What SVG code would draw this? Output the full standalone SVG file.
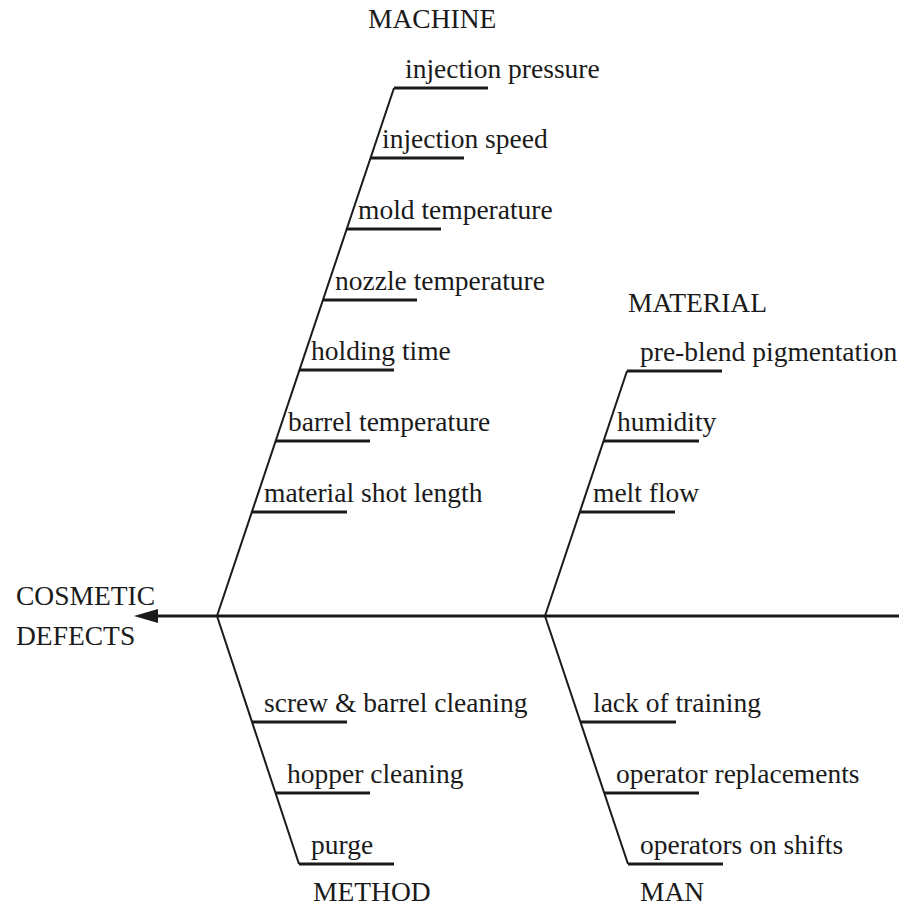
<svg xmlns="http://www.w3.org/2000/svg" width="899" height="915" viewBox="0 0 899 915">
<style>
text{font-family:"Liberation Serif","Times New Roman",Times,serif;font-size:27.5px;fill:#1a1a1a}
.bone{stroke:#1a1a1a;stroke-width:2;fill:none}
.sub{stroke:#1a1a1a;stroke-width:3;fill:none}
.spine{stroke:#1a1a1a;stroke-width:3;fill:none}
</style>
<g id="connectors">
<line class="spine" x1="899" y1="616" x2="150" y2="616"/>
<path d="M134,616 L158,609 L158,623 Z" fill="#1a1a1a"/>
<line class="bone" x1="217" y1="616" x2="394" y2="88"/>
<line class="bone" x1="545" y1="616" x2="627" y2="371"/>
<line class="bone" x1="217" y1="616" x2="299" y2="864"/>
<line class="bone" x1="545" y1="616" x2="628" y2="864"/>
</g>
<g id="head"><text x="16" y="605">COSMETIC</text><text x="16" y="645">DEFECTS</text></g>
<g id="machine">
<text x="368" y="28">MACHINE</text>
<g id="m1"><line class="sub" x1="394" y1="88" x2="488" y2="88"/><text x="405" y="78">injection pressure</text></g>
<g id="m2"><line class="sub" x1="370" y1="158" x2="464" y2="158"/><text x="382" y="148">injection speed</text></g>
<g id="m3"><line class="sub" x1="347" y1="229" x2="441" y2="229"/><text x="358" y="219">mold temperature</text></g>
<g id="m4"><line class="sub" x1="323" y1="300" x2="417" y2="300"/><text x="335" y="290">nozzle temperature</text></g>
<g id="m5"><line class="sub" x1="299" y1="370" x2="394" y2="370"/><text x="311" y="360">holding time</text></g>
<g id="m6"><line class="sub" x1="276" y1="441" x2="370" y2="441"/><text x="288" y="431">barrel temperature</text></g>
<g id="m7"><line class="sub" x1="252" y1="512" x2="347" y2="512"/><text x="264" y="502">material shot length</text></g>
</g>
<g id="material">
<text x="628" y="312">MATERIAL</text>
<g id="t1"><line class="sub" x1="627" y1="371" x2="722" y2="371"/><text x="640" y="361">pre-blend pigmentation</text></g>
<g id="t2"><line class="sub" x1="604" y1="441" x2="699" y2="441"/><text x="617" y="431">humidity</text></g>
<g id="t3"><line class="sub" x1="580" y1="512" x2="675" y2="512"/><text x="593" y="502">melt flow</text></g>
</g>
<g id="method">
<g id="d1"><line class="sub" x1="252" y1="722" x2="347" y2="722"/><text x="264" y="712">screw &amp; barrel cleaning</text></g>
<g id="d2"><line class="sub" x1="276" y1="793" x2="370" y2="793"/><text x="287" y="783">hopper cleaning</text></g>
<g id="d3"><line class="sub" x1="299" y1="864" x2="394" y2="864"/><text x="311" y="854">purge</text></g>
<text x="313" y="901">METHOD</text>
</g>
<g id="man">
<g id="n1"><line class="sub" x1="581" y1="722" x2="676" y2="722"/><text x="593" y="712">lack of training</text></g>
<g id="n2"><line class="sub" x1="604" y1="793" x2="699" y2="793"/><text x="616" y="783">operator replacements</text></g>
<g id="n3"><line class="sub" x1="628" y1="864" x2="723" y2="864"/><text x="640" y="854">operators on shifts</text></g>
<text x="640" y="901">MAN</text>
</g>
</svg>
